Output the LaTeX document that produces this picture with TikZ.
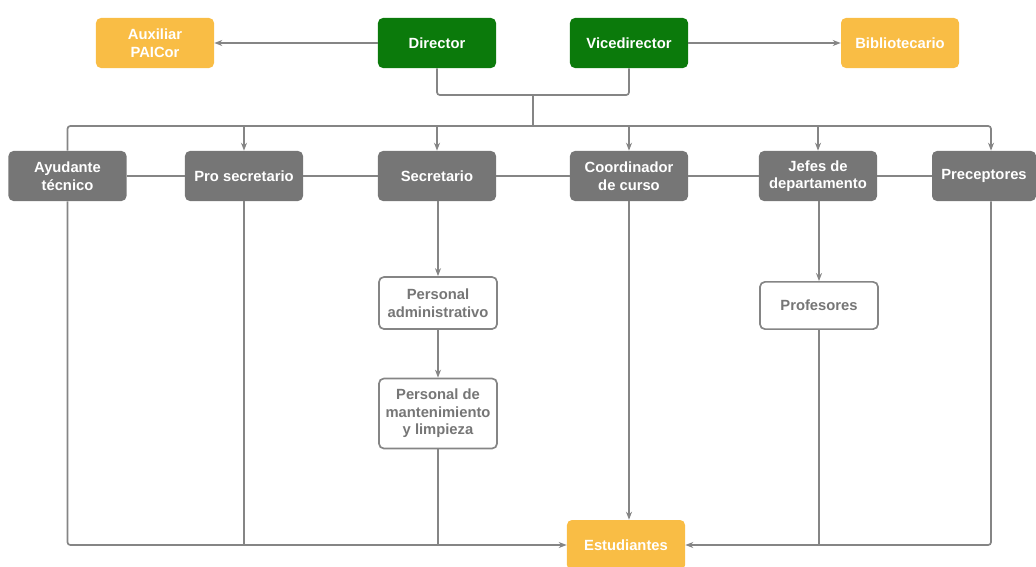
\documentclass[tikz,border=0pt]{standalone}
\usepackage{fontspec}
\setmainfont{Liberation Sans}
\usetikzlibrary{arrows.meta, positioning, calc}
\definecolor{amarillo}{HTML}{F9BD45}
\definecolor{verde}{HTML}{0B7A0B}
\definecolor{gris}{HTML}{767676}
\definecolor{linea}{HTML}{858585}

\begin{document}
\begin{tikzpicture}[
    x=0.025cm, y=-0.025cm,
    box/.style={rectangle, rounded corners=3.5pt, minimum width=2.95cm, minimum height=1.25cm, align=center, inner sep=2pt,
        font=\bfseries\fontsize{10.5}{12.5}\selectfont, text=white},
    jefe/.style={box, fill=verde},
    aux/.style={box, fill=amarillo},
    area/.style={box, fill=gris},
    staff/.style={box, draw=linea, line width=1.2pt, fill=white, text=gris},
    line/.style={draw=linea, line width=1.2pt, rounded corners=2pt},
    arrow/.style={line, -{Stealth[length=2mm]}}
]
    \useasboundingbox (0,0) rectangle (1036,566);

    % Top row
    \node[aux] (auxiliar) at (155,43) {Auxiliar\\PAICor};
    \node[jefe] (director) at (437,43) {Director};
    \node[jefe] (vice) at (629,43) {Vicedirector};
    \node[aux] (biblio) at (900,43) {Bibliotecario};

    % Middle row
    \node[area] (ayudante) at (67.5,176) {Ayudante\\técnico};
    \node[area] (prosec) at (244,176) {Pro secretario};
    \node[area] (secret) at (437,176) {Secretario};
    \node[area] (coord) at (629,176) {Coordinador\\de curso};
    \node[area] (jefes) at (818,176) {Jefes de\\departamento};
    \node[area, minimum width=2.6cm] (precep) at (984,176) {Preceptores};

    % Staff
    \node[staff, minimum height=1.3cm] (admin) at (438,303) {Personal\\administrativo};
    \node[staff, minimum height=1.75cm] (mant) at (438,413.5) {Personal de\\mantenimiento\\y limpieza};
    \node[staff, minimum height=1.18cm] (prof) at (819,305.5) {Profesores};

    % Bottom
    \node[aux] (estud) at (626,545) {Estudiantes};

    \coordinate (junta) at (533,95);
    \coordinate (bus) at (533,126);
    \coordinate (precin) at ([xshift=0.175cm]precep.north);
    \coordinate (precout) at ([xshift=0.175cm]precep.south);

    % Arrows
    \draw[arrow] (director) -- (auxiliar);
    \draw[arrow] (vice) -- (biblio);
    \draw[line] (director.south) |- (junta) -| (vice.south);
    \draw[line] (junta) -- (bus);
    \draw[arrow] (ayudante.north) |- (bus -| precin) -- (precin);
    \foreach \n in {prosec, secret, coord, jefes}
        \draw[arrow] (bus -| \n) -- (\n);
    \draw[line] (ayudante) -- (prosec) -- (secret) -- (coord) -- (jefes) -- (precep);

    \draw[arrow] (secret.south -| admin) -- (admin);
    \draw[arrow] (admin) -- (mant);
    \draw[arrow] (jefes.south -| prof) -- (prof);
    \draw[arrow] (coord) -- (estud.north -| coord);

    \draw[arrow] (ayudante.south) |- (estud.west);
    \draw[line] (prosec.south) -- (prosec.south |- estud.west);
    \draw[line] (mant.south) -- (mant.south |- estud.west);
    \draw[arrow] (precout) |- (estud.east);
    \draw[line] (prof.south) -- (prof.south |- estud.east);
\end{tikzpicture}
\end{document}
